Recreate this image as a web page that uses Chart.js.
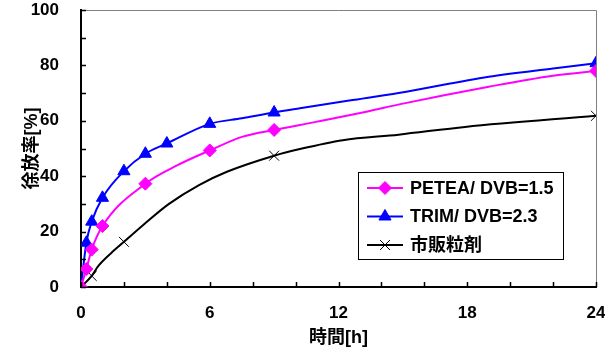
<!DOCTYPE html>
<html>
<head>
<meta charset="utf-8">
<script src="https://cdn.jsdelivr.net/npm/chart.js@4.4.0/dist/chart.umd.min.js"></script>
<style>
  html, body { margin: 0; padding: 0; background: #fff; }
  #wrap { width: 605px; height: 347px; position: relative; }
</style>
</head>
<body>
<div id="wrap"><canvas id="releaseChart"></canvas></div>
<script>
// 徐放率の経時変化
const seriesLabels = ['PETEA/ DVB=1.5', 'TRIM/ DVB=2.3', '市販粒剤'];

// PETEA/DVB=1.5
const peteaHours  = [0, 0.25, 0.5, 1, 3, 4.5, 6, 7.5, 9, 11, 13.3, 15, 19, 22, 24];
const peteaValues = [0, 6.5, 13.5, 22, 37.3, 44, 49.3, 54.2, 56.7, 59.7, 63.3, 66.2, 72.3, 76.3, 78];
const peteaMarked = [1, 1, 1, 1, 1, 0, 1, 0, 1, 0, 0, 0, 0, 0, 1];

// TRIM/DVB=2.3
const trimHours  = [0, 0.25, 0.5, 1, 2, 3, 4, 6, 7.5, 9, 10.2, 12.5, 14.8, 19, 22, 24];
const trimValues = [0, 16, 23.6, 32.2, 41.8, 48.1, 51.8, 58.9, 60.9, 63, 64.5, 67.3, 70, 75.9, 78.9, 80.8];
const trimMarked = [1, 1, 1, 1, 1, 1, 1, 1, 0, 1, 0, 0, 0, 0, 0, 1];

// 市販粒剤
const marketHours  = [0, 0.5, 0.8, 1.4, 2, 2.9, 4.1, 5.5, 6.8, 9, 10.2, 12.2, 14.8, 17.9, 24];
const marketValues = [0, 4, 7.5, 12.2, 16.3, 22.4, 30, 36.8, 41.6, 47.4, 49.8, 53, 55, 57.8, 61.8];
const marketMarked = [1, 1, 0, 0, 1, 0, 0, 0, 0, 1, 0, 0, 0, 0, 1];

const xTicks = [0, 6, 12, 18, 24];
const yTicks = [0, 20, 40, 60, 80, 100];

const FONT = "'Liberation Sans', Arial, 'Noto Sans CJK JP', sans-serif";

function toPoints(hours, values) {
    return hours.map((h, i) => ({ x: h, y: values[i] }));
}

function radii(marked, r) {
    return marked.map(m => (m ? r : 0));
}

// 枠線と内向きの目盛り
const framePlugin = {
    id: 'frame',
    afterDraw(chart) {
        const ctx = chart.ctx;
        const a = chart.chartArea;
        ctx.save();
        ctx.strokeStyle = '#808080';
        ctx.lineWidth = 1;
        ctx.beginPath();
        ctx.moveTo(a.left, a.top + 0.5);
        ctx.lineTo(a.right + 0.5, a.top + 0.5);
        ctx.lineTo(a.right + 0.5, a.bottom);
        ctx.stroke();

        ctx.strokeStyle = '#000';
        ctx.lineWidth = 1.5;
        const xs = chart.scales.x;
        const ys = chart.scales.y;
        ctx.beginPath();
        xs.ticks.forEach(t => {
            const px = Math.round(xs.getPixelForValue(t.value)) + 0.5;
            ctx.moveTo(px, a.bottom);
            ctx.lineTo(px, a.bottom - 5);
        });
        ys.ticks.forEach(t => {
            const py = Math.round(ys.getPixelForValue(t.value)) + 0.5;
            ctx.moveTo(a.left, py);
            ctx.lineTo(a.left + 5, py);
        });
        ctx.stroke();
        ctx.restore();
    }
};

// 凡例（グラフ内の枠）
const boxLegendPlugin = {
    id: 'boxLegend',
    afterDraw(chart) {
        const ctx = chart.ctx;
        const a = chart.chartArea;
        const w = 205, h = 87;
        const bx = a.right - 33 - w;
        const by = a.bottom - 28 - h;
        ctx.save();
        ctx.fillStyle = '#fff';
        ctx.fillRect(bx, by, w, h);
        ctx.strokeStyle = '#000';
        ctx.lineWidth = 1;
        ctx.strokeRect(bx + 0.5, by + 0.5, w, h);

        ctx.font = 'bold 18px ' + FONT;
        ctx.textBaseline = 'middle';
        chart.data.datasets.forEach((ds, i) => {
            const cy = by + 16 + i * 28.5;
            const x0 = bx + 9, x1 = bx + 45;
            ctx.strokeStyle = ds.borderColor;
            ctx.lineWidth = ds.borderWidth;
            ctx.beginPath();
            ctx.moveTo(x0, cy);
            ctx.lineTo(x1, cy);
            ctx.stroke();
            ctx.fillStyle = ds.backgroundColor;
            ctx.strokeStyle = ds.borderColor;
            ctx.lineWidth = ds.pointBorderWidth;
            Chart.helpers.drawPoint(ctx, {
                pointStyle: ds.pointStyle,
                radius: ds.legendRadius,
                rotation: 0,
                borderWidth: ds.pointBorderWidth
            }, (x0 + x1) / 2, cy);
            ctx.fillStyle = '#000';
            ctx.fillText(ds.label, bx + 52, cy + 1);
        });
        ctx.restore();
    }
};

const tickFont = { family: FONT, size: 17, weight: 'bold' };
const titleFont = { family: FONT, size: 18, weight: 'bold' };

new Chart(document.getElementById('releaseChart'), {
    type: 'line',
    data: {
        datasets: [
            {
                label: seriesLabels[0],
                data: toPoints(peteaHours, peteaValues),
                borderColor: '#ff00ff',
                backgroundColor: '#ff00ff',
                borderWidth: 2,
                pointStyle: 'rectRot',
                pointRadius: radii(peteaMarked, 6.5),
                legendRadius: 6.5,
                pointBorderWidth: 1,
                cubicInterpolationMode: 'monotone'
            },
            {
                label: seriesLabels[1],
                data: toPoints(trimHours, trimValues),
                borderColor: '#0000ff',
                backgroundColor: '#0000ff',
                borderWidth: 2,
                pointStyle: 'triangle',
                pointRadius: radii(trimMarked, 7),
                legendRadius: 7,
                pointBorderWidth: 1,
                cubicInterpolationMode: 'monotone'
            },
            {
                label: seriesLabels[2],
                data: toPoints(marketHours, marketValues),
                borderColor: '#000000',
                backgroundColor: '#000000',
                borderWidth: 2,
                pointStyle: 'crossRot',
                pointRadius: radii(marketMarked, 7),
                legendRadius: 7,
                pointBorderWidth: 1,
                cubicInterpolationMode: 'monotone'
            }
        ]
    },
    options: {
        responsive: true,
        maintainAspectRatio: false,
        animation: false,
        layout: { padding: { top: 10, right: 9, left: 0, bottom: 0 } },
        plugins: {
            legend: { display: false },
            tooltip: { enabled: false }
        },
        scales: {
            x: {
                type: 'linear',
                min: 0,
                max: 24,
                grid: { display: false },
                border: { display: true, color: '#000', width: 2 },
                ticks: {
                    stepSize: 2,
                    autoSkip: false,
                    maxRotation: 0,
                    padding: 8,
                    color: '#000',
                    font: tickFont,
                    callback: v => (xTicks.includes(v) ? v : '')
                },
                title: {
                    display: true,
                    text: '時間[h]',
                    color: '#000',
                    font: titleFont,
                    padding: { top: 0, bottom: -2 }
                },
                afterFit(scale) {
                    scale.height = 60;
                    scale.paddingLeft = 0;
                    scale.paddingRight = 0;
                }
            },
            y: {
                min: 0,
                max: 100,
                grid: { display: false },
                border: { display: true, color: '#000', width: 2 },
                ticks: {
                    stepSize: 10,
                    autoSkip: false,
                    padding: 14,
                    color: '#000',
                    font: tickFont,
                    callback: v => (yTicks.includes(v) ? v : '')
                },
                title: {
                    display: true,
                    text: '徐放率[%]',
                    color: '#000',
                    font: titleFont,
                    padding: { top: 21, bottom: 0 }
                },
                afterFit(scale) {
                    scale.width = 81;
                    scale.paddingTop = 0;
                    scale.paddingBottom = 0;
                }
            }
        }
    },
    plugins: [framePlugin, boxLegendPlugin]
});
</script>
</body>
</html>
